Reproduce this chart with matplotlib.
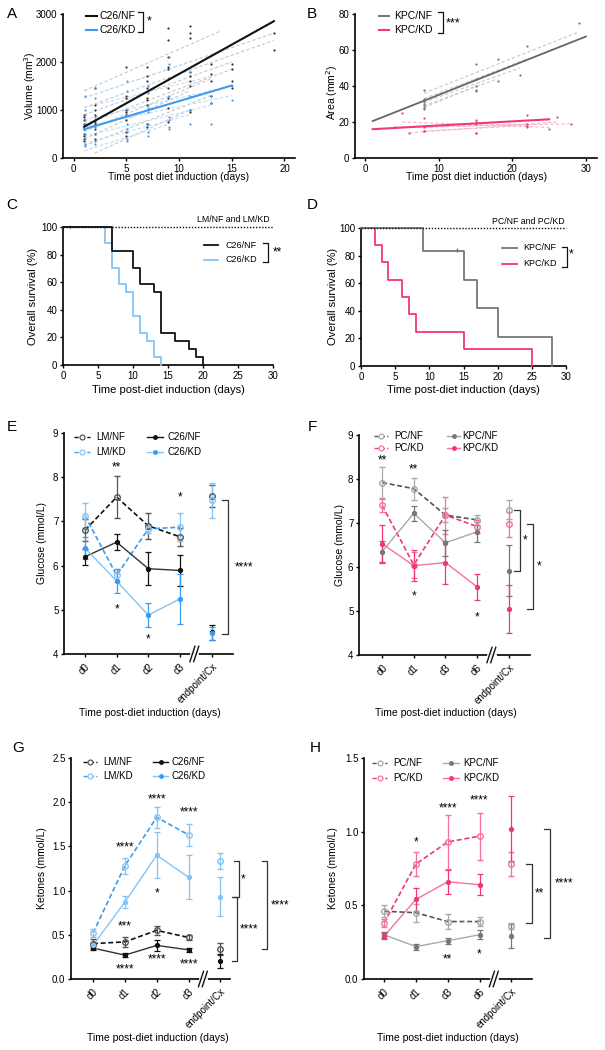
import numpy as np
import matplotlib
matplotlib.use("Agg")
import matplotlib.pyplot as plt
from matplotlib.lines import Line2D

plt.rcParams['font.family'] = ['Liberation Sans', 'DejaVu Sans']
plt.rcParams['font.size'] = 7

W, H = 605, 1050

# ---------------- DATA ----------------
# Panel A: tumour volume scatter (day, volumes)
A_days = [1, 2, 5, 7, 9, 11, 13, 15, 19]
A_nf_pts = [
    [900, 850, 800, 700, 600, 500, 450, 400, 350],
    [1450, 1100, 1000, 900, 800, 750, 700, 600, 500, 400],
    [1900, 1300, 1250, 1000, 950, 900, 800, 550, 450],
    [1900, 1700, 1600, 1450, 1250, 1200, 1100, 700, 650],
    [2700, 2450, 2100, 1900, 1850, 1650, 1450, 1250, 1050, 750],
    [2750, 2600, 2500, 1800, 1700, 1600, 1500, 1000, 950],
    [1950, 1750, 1600, 1300, 1150],
    [1950, 1850, 1600, 1450],
    [2600, 2250],
]
A_kd_pts = [
    [1300, 1000, 900, 800, 700, 500, 400, 300, 250],
    [1450, 1250, 850, 800, 650, 500, 350, 300],
    [1600, 1400, 1000, 900, 700, 600, 550, 400, 350],
    [1500, 1350, 1100, 1050, 950, 700, 550, 450],
    [2100, 1950, 1300, 850, 800, 650, 600],
    [1800, 1300, 1000, 700],
    [1300, 1150, 700],
    [1500, 1200],
]
# per-mouse fitted lines: (start day, start vol, end day, end vol)
A_nf_fits = [(1, 1400, 14, 2650), (1, 1250, 19, 2600), (1, 1050, 19, 2450),
             (1, 900, 15, 2000), (1, 700, 15, 1850), (1, 550, 13, 1650),
             (1, 400, 11, 1400), (1, 250, 13, 1300), (2, 100, 11, 1000)]
A_kd_fits = [(1, 1250, 11, 2000), (1, 1050, 13, 1700), (1, 800, 15, 1500),
             (1, 650, 15, 1300), (1, 450, 13, 1100), (1, 300, 11, 900),
             (1, 150, 9, 700)]
A_nf_mean = (1, 650, 19, 2850)
A_kd_mean = (1, 600, 15, 1510)

# Panel B: tumour area
B_nf_days = [8, 8, 8, 8, 8, 8, 8, 15, 15, 15, 15, 15, 18, 18, 21, 22, 29]
B_nf_vals = [38, 33, 31, 30, 29, 28, 27, 52, 44, 40, 38, 37, 55, 43, 46, 62, 75]
B_kd_days = [4, 5, 6, 8, 8, 8, 8, 15, 15, 15, 15, 15, 22, 22, 22, 22, 25, 26, 28]
B_kd_vals = [17, 25, 14, 22, 17, 15, 15, 21, 20, 19, 14, 14, 24, 19, 18, 17, 16, 23, 19]
B_nf_fits = [(8, 36, 29, 70), (8, 33, 22, 55), (8, 31, 21, 50), (8, 29, 18, 44), (8, 28, 15, 40)]
B_kd_fits = [(4, 17, 28, 19), (6, 14, 26, 20), (8, 15, 22, 18), (5, 20, 25, 17), (8, 17, 22, 19)]
B_nf_mean = (1, 20.5, 30, 67.5)
B_kd_mean = (1, 16, 25, 21.5)

# Panel C: survival (step times, survival %)
C_nf_t = [0, 7, 10, 11, 13, 14, 16, 18, 19, 20]
C_nf_s = [100, 82.4, 70.6, 58.8, 52.9, 23.5, 17.6, 11.8, 5.9, 0]
C_kd_t = [0, 6, 7, 8, 9, 10, 11, 12, 13, 14]
C_kd_s = [100, 88.2, 70.6, 58.8, 52.9, 35.3, 23.5, 17.6, 5.9, 0]
C_kd_cens = [1]

# Panel D
D_nf_t = [0, 9, 15, 17, 20, 28]
D_nf_s = [100, 83.3, 62.5, 41.7, 20.8, 0]
D_nf_cens = [14]
D_kd_t = [0, 2, 3, 4, 6, 7, 8, 15, 25]
D_kd_s = [100, 87.5, 75, 62.5, 50, 37.5, 25, 12.5, 0]

# Panel E: glucose (mean, sem) at d0, d1, d2, d3, endpoint
E_labels = ['d0', 'd1', 'd2', 'd3', 'endpoint/Cx']
E_lmnf = [6.80, 7.55, 6.90, 6.65, 7.58]
E_lmnf_e = [0.25, 0.47, 0.30, 0.20, 0.25]
E_lmkd = [7.13, 5.78, 6.83, 6.87, 7.48]
E_lmkd_e = [0.28, 0.15, 0.10, 0.32, 0.40]
E_c26nf = [6.20, 6.53, 5.93, 5.89, 4.49]
E_c26nf_e = [0.18, 0.18, 0.37, 0.36, 0.17]
E_c26kd = [6.40, 5.65, 4.88, 5.25, 4.47]
E_c26kd_e = [0.25, 0.27, 0.28, 0.57, 0.15]

# Panel F
F_labels = ['d0', 'd1', 'd3', 'd6', 'endpoint/Cx']
F_pcnf = [7.92, 7.78, 7.18, 7.07, 7.30]
F_pcnf_e = [0.35, 0.25, 0.15, 0.12, 0.22]
F_pckd = [7.40, 6.05, 7.18, 6.92, 6.97]
F_pckd_e = [0.15, 0.30, 0.42, 0.15, 0.28]
F_kpcnf = [6.35, 7.22, 6.55, 6.80, 5.92]
F_kpcnf_e = [0.25, 0.17, 0.30, 0.23, 0.58]
F_kpckd = [6.53, 6.03, 6.10, 5.55, 5.05]
F_kpckd_e = [0.42, 0.35, 0.48, 0.30, 0.55]

# Panel G: ketones
G_labels = ['d0', 'd1', 'd2', 'd3', 'endpoint/Cx']
G_lmnf = [0.40, 0.42, 0.55, 0.47, 0.34]
G_lmnf_e = [0.05, 0.06, 0.05, 0.03, 0.07]
G_lmkd = [0.52, 1.28, 1.83, 1.63, 1.33]
G_lmkd_e = [0.04, 0.09, 0.12, 0.12, 0.09]
G_c26nf = [0.35, 0.27, 0.38, 0.33, 0.20]
G_c26nf_e = [0.02, 0.02, 0.06, 0.02, 0.08]
G_c26kd = [0.38, 0.87, 1.40, 1.15, 0.93]
G_c26kd_e = [0.03, 0.07, 0.26, 0.25, 0.22]

# Panel H
H_labels = ['d0', 'd1', 'd3', 'd6', 'endpoint/Cx']
H_pcnf = [0.46, 0.45, 0.39, 0.39, 0.36]
H_pcnf_e = [0.04, 0.06, 0.05, 0.03, 0.02]
H_pckd = [0.38, 0.78, 0.93, 0.97, 0.78]
H_pckd_e = [0.03, 0.08, 0.18, 0.16, 0.08]
H_kpcnf = [0.30, 0.22, 0.26, 0.30, 0.29]
H_kpcnf_e = [0.02, 0.02, 0.02, 0.03, 0.08]
H_kpckd = [0.29, 0.54, 0.66, 0.64, 1.02]
H_kpckd_e = [0.02, 0.08, 0.08, 0.07, 0.22]

# significance annotations: (x position, y value, text)
E_stars = [(1, 8.22, '**'), (1, 5.0, '*'), (2, 4.33, '*'), (3, 7.55, '*')]
F_stars = [(0, 8.42, '**'), (1, 8.22, '**'), (1, 5.33, '*'), (3, 4.85, '*')]
G_stars = [(1, 1.49, '****'), (2, 0.97, '*'), (2, 2.03, '****'), (3, 1.88, '****'),
           (1, 0.59, '***'), (1, 0.11, '****'), (2, 0.22, '****'), (3, 0.16, '****')]
H_stars = [(1, 0.93, '*'), (2, 1.16, '****'), (3, 1.21, '****'), (2, 0.13, '**'), (3, 0.17, '*')]
# brackets: (x, y_top, y_bottom, text, text x)
E_brackets = [(4.5, 7.48, 4.45, '****', 4.73)]
F_brackets = [(4.35, 7.30, 5.90, '*', 4.45), (4.76, 6.97, 5.05, '*', 4.89)]
G_brackets = [(4.59, 1.33, 0.93, '*', 4.65), (4.53, 0.93, 0.20, '****', 4.62),
              (5.47, 1.33, 0.34, '****', 5.57)]
H_brackets = [(4.65, 0.78, 0.38, '**', 4.75), (5.22, 1.02, 0.28, '****', 5.38)]

# ---------------- COLOURS ----------------
BLACK = '#111111'
BLUE = '#3d9cf0'
LBLUE = '#86c4f5'
GRAY = '#777777'
LGRAY = '#a9a9a9'
PINK = '#f2357d'
LPINK = '#f7709f'

fig = plt.figure(figsize=(W / 100, H / 100), dpi=100)


def add_ax(l, r, t, b):
    ax = fig.add_axes([l / W, 1 - b / H, (r - l) / W, (b - t) / H])
    for s in ['top', 'right']:
        ax.spines[s].set_visible(False)
    for s in ['left', 'bottom']:
        ax.spines[s].set_linewidth(1.2)
    ax.tick_params(width=1.0, length=2.5, labelsize=7, pad=1.5)
    return ax


def ftext(x, y, s, **kw):
    kw.setdefault('ha', 'center')
    kw.setdefault('va', 'center')
    fig.text(x / W, 1 - y / H, s, **kw)


def fline(xs, ys, **kw):
    fig.add_artist(Line2D([x / W for x in xs], [1 - y / H for y in ys],
                          transform=fig.transFigure, **kw))


def fbracket(x, y0, y1, w=5, txt=None, tx=None, ty=None, fs=8):
    fline([x - w, x, x, x - w], [y0, y0, y1, y1], color=BLACK, lw=0.9)
    if txt:
        ftext(tx, ty, txt, fontsize=fs, ha='left')


# ---------------- PANEL A ----------------
ax = add_ax(63, 295, 14, 158)
for fx0, fy0, fx1, fy1 in A_nf_fits:
    ax.plot([fx0, fx1], [fy0, fy1], ls=(0, (3, 2)), color='#c8c8c8', lw=0.8)
for fx0, fy0, fx1, fy1 in A_kd_fits:
    ax.plot([fx0, fx1], [fy0, fy1], ls=(0, (3, 2)), color='#bfdcf5', lw=0.8)
for d, vals in zip(A_days, A_nf_pts):
    ax.scatter([d] * len(vals), vals, s=2.5, color='#333333', zorder=3, lw=0)
for d, vals in zip(A_days, A_kd_pts):
    ax.scatter([d + 0.05] * len(vals), vals, s=2.5, color=BLUE, zorder=3, lw=0)
ax.plot([A_nf_mean[0], A_nf_mean[2]], [A_nf_mean[1], A_nf_mean[3]], color=BLACK, lw=1.5, zorder=4)
ax.plot([A_kd_mean[0], A_kd_mean[2]], [A_kd_mean[1], A_kd_mean[3]], color=BLUE, lw=1.5, zorder=4)
ax.set_xlim(-1, 21)
ax.set_ylim(0, 3000)
ax.set_xticks([0, 5, 10, 15, 20])
ax.set_yticks([0, 1000, 2000, 3000])
ftext(30, 86, 'Volume (mm$^3$)', rotation=90, fontsize=7.5)
ftext(179, 177, 'Time post diet induction (days)', fontsize=7.5)
fline([86, 97], [16, 16], color=BLACK, lw=1.5)
fline([86, 97], [30, 30], color=BLUE, lw=1.5)
ftext(100, 16, 'C26/NF', ha='left', fontsize=7.5)
ftext(100, 30, 'C26/KD', ha='left', fontsize=7.5)
fbracket(143, 12, 32, txt='*', tx=147, ty=21, fs=9)
ftext(12, 14, 'A', fontsize=11)

# ---------------- PANEL B ----------------
ax = add_ax(355, 597, 14, 158)
for fx0, fy0, fx1, fy1 in B_nf_fits:
    ax.plot([fx0, fx1], [fy0, fy1], ls=(0, (3, 2)), color='#c8c8c8', lw=0.8)
for fx0, fy0, fx1, fy1 in B_kd_fits:
    ax.plot([fx0, fx1], [fy0, fy1], ls=(0, (3, 2)), color='#f7b3cc', lw=0.8)
ax.scatter(B_nf_days, B_nf_vals, s=2.5, color='#777777', zorder=3, lw=0)
ax.scatter(B_kd_days, B_kd_vals, s=2.5, color=PINK, zorder=3, lw=0)
ax.plot([B_nf_mean[0], B_nf_mean[2]], [B_nf_mean[1], B_nf_mean[3]], color='#666666', lw=1.3, zorder=4)
ax.plot([B_kd_mean[0], B_kd_mean[2]], [B_kd_mean[1], B_kd_mean[3]], color=PINK, lw=1.5, zorder=4)
ax.set_xlim(-1.4, 31.5)
ax.set_ylim(0, 80)
ax.set_xticks([0, 10, 20, 30])
ax.set_yticks([0, 20, 40, 60, 80])
ftext(332, 92, 'Area (mm$^2$)', rotation=90, fontsize=7.5)
ftext(477, 177, 'Time post diet induction (days)', fontsize=7.5)
fline([379, 389], [16, 16], color='#666666', lw=1.3)
fline([379, 389], [30, 30], color=PINK, lw=1.5)
ftext(394, 16, 'KPC/NF', ha='left', fontsize=7.5)
ftext(394, 30, 'KPC/KD', ha='left', fontsize=7.5)
fbracket(443, 12, 33, txt='***', tx=446, ty=23, fs=9)
ftext(312, 14, 'B', fontsize=11)

# ---------------- PANEL C ----------------
ax = add_ax(63, 273, 227, 365)
ax.step(C_nf_t, C_nf_s, where='post', color=BLACK, lw=1.3, clip_on=False, zorder=4)
ax.step(C_kd_t, C_kd_s, where='post', color=LBLUE, lw=1.3, clip_on=False, zorder=3)
ax.plot(C_kd_cens, [100] * len(C_kd_cens), marker='|', ms=3, color=LBLUE, clip_on=False)
ax.plot([0, 30], [100, 100], ls=(0, (1, 1.2)), color=BLACK, lw=1.0, clip_on=False, zorder=5)
ax.set_xlim(0, 30)
ax.set_ylim(0, 100)
ax.set_xticks([0, 5, 10, 15, 20, 25, 30])
ax.set_yticks([0, 20, 40, 60, 80, 100])
ftext(270, 220, 'LM/NF and LM/KD', ha='right', fontsize=6.3)
ftext(33, 296, 'Overall survival (%)', rotation=90, fontsize=8)
ftext(168, 390, 'Time post-diet induction (days)', fontsize=8)
fline([204, 218], [245, 245], color=BLACK, lw=1.3)
fline([204, 218], [260, 260], color=LBLUE, lw=1.3)
ftext(225, 245, 'C26/NF', ha='left', fontsize=6.5)
ftext(225, 260, 'C26/KD', ha='left', fontsize=6.5)
fbracket(268, 243, 262, txt='**', tx=273, ty=252, fs=8.5)
ftext(12, 205, 'C', fontsize=11)

# ---------------- PANEL D ----------------
ax = add_ax(361, 566, 228, 366)
ax.step(D_nf_t, D_nf_s, where='post', color=GRAY, lw=1.3, clip_on=False, zorder=4)
ax.step(D_kd_t, D_kd_s, where='post', color=PINK, lw=1.3, clip_on=False, zorder=3)
ax.plot(D_nf_cens, [83.3 + 0.5] * len(D_nf_cens), marker='|', ms=3, color=GRAY, clip_on=False)
ax.plot([0, 30], [100, 100], ls=(0, (1, 1.2)), color=BLACK, lw=1.0, clip_on=False, zorder=5)
ax.set_xlim(0, 30)
ax.set_ylim(0, 100)
ax.set_xticks([0, 5, 10, 15, 20, 25, 30])
ax.set_yticks([0, 20, 40, 60, 80, 100])
ftext(565, 221, 'PC/NF and PC/KD', ha='right', fontsize=6.3)
ftext(333, 296, 'Overall survival (%)', rotation=90, fontsize=8)
ftext(463, 390, 'Time post-diet induction (days)', fontsize=8)
fline([502, 517], [248, 248], color=GRAY, lw=1.3)
fline([502, 517], [264, 264], color=PINK, lw=1.3)
ftext(523, 248, 'KPC/NF', ha='left', fontsize=6.5)
ftext(523, 264, 'KPC/KD', ha='left', fontsize=6.5)
fbracket(567, 247, 267, txt='*', tx=569, ty=254, fs=8.5)
ftext(312, 205, 'D', fontsize=11)


# ---------------- LINE PANELS ----------------
def series(ax, y, e, lcol, mcol, ls, open_m):
    x = np.arange(len(y))
    ax.plot(x[:4], y[:4], ls=ls, color=lcol, lw=1.0 if ls == '-' else 1.2, zorder=3, clip_on=False)
    if open_m:
        ax.errorbar(x, y, yerr=e, fmt='o', ms=4, mfc='none', mec=mcol, mew=1.0,
                    ecolor=mcol, elinewidth=0.9, capsize=2, capthick=0.9, zorder=4, clip_on=False)
    else:
        ax.errorbar(x, y, yerr=e, fmt='o', ms=2.8, mfc=mcol, mec=mcol,
                    ecolor=mcol, elinewidth=0.9, capsize=2, capthick=0.9, zorder=4, clip_on=False)


def line_panel(ax, labels, xlim, ylim, yticks, ytl, stars, brackets, bw=0.18):
    ax.set_xlim(*xlim)
    ax.set_ylim(*ylim)
    ax.set_yticks(yticks)
    ax.set_yticklabels(ytl)
    ax.set_xticks(range(len(labels)))
    ax.set_xticklabels(labels, rotation=45, ha='right', rotation_mode='anchor')
    ax.tick_params(axis='x', pad=3)
    for sx, sy, st in stars:
        ax.text(sx, sy, st, ha='center', va='center', fontsize=8.5)
    for bx, yt, yb, st, tx in brackets:
        ax.plot([bx - bw, bx, bx, bx - bw], [yt, yt, yb, yb], color='#333333', lw=0.9, clip_on=False)
        ax.text(tx, (yt + yb) / 2, st, ha='left', va='center', fontsize=8.5, clip_on=False)
    # axis break marks
    yr = ylim[1] - ylim[0]
    for dx in (-0.06, 0.06):
        ax.plot([3.45 + dx - 0.08, 3.45 + dx + 0.08],
                [ylim[0] - 0.035 * yr, ylim[0] + 0.035 * yr],
                color=BLACK, lw=1.0, clip_on=False, zorder=6)
    ax.plot([3.35, 3.55], [ylim[0], ylim[0]], color='white', lw=2.0, clip_on=False, zorder=5)


def legend4(xh0, xh1, xt, ys, cols, items):
    # items: list of (label, line colour, marker colour, linestyle, open)
    for i, (lab, lc, mc, ls, op) in enumerate(items):
        c = i // 2
        r = i % 2
        x0, x1, xtx = xh0[c], xh1[c], xt[c]
        y = ys[r]
        fline([x0, x1], [y, y], color=lc, lw=1.0, ls=ls)
        xm = (x0 + x1) / 2
        if op:
            fig.add_artist(Line2D([xm / W], [1 - y / H], transform=fig.transFigure, marker='o',
                                  ms=3.5, mfc='white', mec=mc, mew=0.9))
        else:
            fig.add_artist(Line2D([xm / W], [1 - y / H], transform=fig.transFigure, marker='o',
                                  ms=2.5, mfc=mc, mec=mc))
        ftext(xtx, y, lab, ha='left', fontsize=7)


DASH = (0, (3, 1.6))

# E
ax = add_ax(64, 233, 433, 654)
series(ax, E_lmnf, E_lmnf_e, BLACK, '#555555', DASH, True)
series(ax, E_lmkd, E_lmkd_e, BLUE, LBLUE, DASH, True)
series(ax, E_c26nf, E_c26nf_e, '#333333', BLACK, '-', False)
series(ax, E_c26kd, E_c26kd_e, LBLUE, BLUE, '-', False)
line_panel(ax, E_labels, (-0.66, 4.67), (4, 9), [4, 5, 6, 7, 8, 9],
           ['4', '5', '6', '7', '8', '9'], E_stars, E_brackets)
legend4([74, 147], [90, 163], [96, 167], [437, 452], 2,
        [('LM/NF', BLACK, '#555555', DASH, True), ('LM/KD', BLUE, LBLUE, DASH, True),
         ('C26/NF', BLACK, BLACK, '-', False), ('C26/KD', LBLUE, BLUE, '-', False)])
ftext(42, 543, 'Glucose (mmol/L)', rotation=90, fontsize=7.5)
ftext(150, 713, 'Time post-diet induction (days)', fontsize=7.5)
ftext(12, 427, 'E', fontsize=11)

# F
ax = add_ax(359, 530, 435, 655)
series(ax, F_pcnf, F_pcnf_e, '#555555', LGRAY, DASH, True)
series(ax, F_pckd, F_pckd_e, PINK, LPINK, DASH, True)
series(ax, F_kpcnf, F_kpcnf_e, LGRAY, GRAY, '-', False)
series(ax, F_kpckd, F_kpckd_e, LPINK, PINK, '-', False)
line_panel(ax, F_labels, (-0.73, 4.67), (4, 9), [4, 5, 6, 7, 8, 9],
           ['4', '5', '6', '7', '8', '9'], F_stars, F_brackets)
legend4([374, 447], [388, 460], [394, 462], [436, 448], 2,
        [('PC/NF', '#555555', LGRAY, DASH, True), ('PC/KD', PINK, LPINK, DASH, True),
         ('KPC/NF', LGRAY, GRAY, '-', False), ('KPC/KD', LPINK, PINK, '-', False)])
ftext(340, 545, 'Glucose (mmol/L)', rotation=90, fontsize=7.5)
ftext(446, 713, 'Time post-diet induction (days)', fontsize=7.5)
ftext(312, 427, 'F', fontsize=11)

# G
ax = add_ax(71, 230, 758, 979)
series(ax, G_lmnf, G_lmnf_e, BLACK, '#555555', DASH, True)
series(ax, G_lmkd, G_lmkd_e, BLUE, LBLUE, DASH, True)
series(ax, G_c26nf, G_c26nf_e, '#333333', BLACK, '-', False)
series(ax, G_c26kd, G_c26kd_e, LBLUE, LBLUE, '-', False)
line_panel(ax, G_labels, (-0.69, 4.3), (0, 2.5), [0, 0.5, 1.0, 1.5, 2.0, 2.5],
           ['0.0', '0.5', '1.0', '1.5', '2.0', '2.5'], G_stars, G_brackets)
legend4([83, 153], [97, 168], [103, 172], [762, 776], 2,
        [('LM/NF', BLACK, '#555555', DASH, True), ('LM/KD', BLUE, LBLUE, DASH, True),
         ('C26/NF', BLACK, BLACK, '-', False), ('C26/KD', LBLUE, BLUE, '-', False)])
ftext(42, 868, 'Ketones (mmol/L)', rotation=90, fontsize=7.5)
ftext(158, 1038, 'Time post-diet induction (days)', fontsize=7.5)
ftext(18, 748, 'G', fontsize=11)

# H
ax = add_ax(364, 532, 758, 979)
series(ax, H_pcnf, H_pcnf_e, '#555555', LGRAY, DASH, True)
series(ax, H_pckd, H_pckd_e, PINK, LPINK, DASH, True)
series(ax, H_kpcnf, H_kpcnf_e, LGRAY, GRAY, '-', False)
series(ax, H_kpckd, H_kpckd_e, LPINK, PINK, '-', False)
line_panel(ax, H_labels, (-0.63, 4.65), (0, 1.5), [0, 0.5, 1.0, 1.5],
           ['0.0', '0.5', '1.0', '1.5'], H_stars, H_brackets)
legend4([372, 443], [387, 459], [393, 463], [763, 778], 2,
        [('PC/NF', '#555555', LGRAY, DASH, True), ('PC/KD', PINK, LPINK, DASH, True),
         ('KPC/NF', LGRAY, GRAY, '-', False), ('KPC/KD', LPINK, PINK, '-', False)])
ftext(333, 868, 'Ketones (mmol/L)', rotation=90, fontsize=7.5)
ftext(448, 1038, 'Time post-diet induction (days)', fontsize=7.5)
ftext(315, 748, 'H', fontsize=11)

fig.savefig('out.png', dpi=100)
